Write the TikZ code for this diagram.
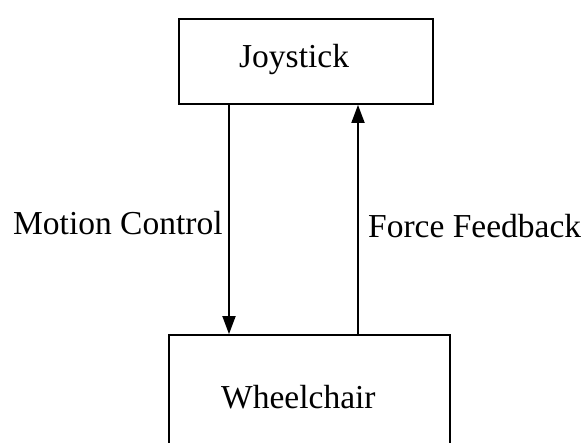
\documentclass[tikz,border=0pt]{standalone}
\usepackage{fontspec}
\setmainfont{Liberation Serif}
\usetikzlibrary{arrows.meta}
\begin{document}
\begin{tikzpicture}[x=1pt,y=-1pt,
  blockbox/.style={draw=black, line width=1.8pt, minimum width=#1, inner sep=0pt},
  caption/.style={inner sep=0pt, anchor=base west, font=\fontsize{33.5}{40}\selectfont},
  link/.style={line width=1.8pt, -{Triangle[length=18pt,width=13pt]}}]
  \useasboundingbox (0,0) rectangle (587,443);
  \clip (0,0) rectangle (587,443);
  % blocks
  \node[blockbox=254pt, minimum height=85pt] (joystick) at (306,61.5) {};
  \node[blockbox=281pt, minimum height=130pt] (wheelchair) at (309.5,400) {};
  % block captions
  \node[caption] (joysticktext) at (239,68) {Joystick};
  \node[caption] (wheelchairtext) at (221,409) {Wheelchair};
  % signal paths
  \coordinate (downpath) at (229,0);
  \coordinate (uppath) at (358,0);
  \draw[link] (joystick.south -| downpath) -- (wheelchair.north -| downpath);
  \draw[link] (wheelchair.north -| uppath) -- (joystick.south -| uppath);
  % path labels
  \node[caption] (motion) at (13,235) {Motion Control};
  \node[caption] (force) at (368,238) {Force Feedback};
\end{tikzpicture}
\end{document}
